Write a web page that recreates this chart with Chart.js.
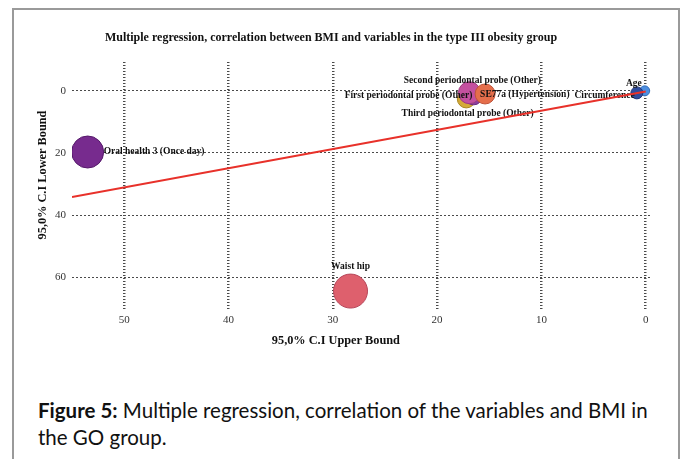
<!DOCTYPE html>
<html>
<head>
<meta charset="utf-8">
<script src="https://cdn.jsdelivr.net/npm/chart.js@4/dist/chart.umd.min.js"></script>
<style>
  html, body { margin: 0; padding: 0; background: #fff; }
  body { width: 684px; height: 459px; position: relative; overflow: hidden; }
  #frame {
    position: absolute; left: 12px; top: 8px; width: 664px; height: 470px;
    border: 2px solid #9a9a9a; border-bottom: none;
  }
  #chart { position: absolute; left: 0; top: 0; }
  #caption {
    position: absolute; left: 38px; top: 397px; width: 640px;
    font-family: Lato, "Open Sans", sans-serif; font-size: 20.5px; line-height: 27px; color: #111;
  }
</style>
</head>
<body>
<div id="frame"></div>
<canvas id="chart" width="684" height="360"></canvas>
<div id="caption"><b>Figure 5:</b> Multiple regression, correlation of the variables and BMI in<br>the GO group.</div>

<script>
// ── Data ──
const variables = [
  "Oral health 3 (Once day)",
  "Waist hip",
  "Second periodontal probe (Other)",
  "Third periodontal probe (Other)",
  "First periodontal probe (Other)",
  "SE77a (Hypertension)",
  "Circumference",
  "Age"
];
const upperBound = [53.5, 28.3, 17.2, 16.5, 16.9, 15.4, 0.1, 0.85];   // x
const lowerBound = [19.7, 64.5, 2.6, 1.6, 0.6, 1.0, 0.0, 0.65];     // y
const weight     = [16, 17, 9, 9, 11, 10, 5, 6];                    // bubble size

const fitX = [55, 0];
const fitY = [34.2, 0.2];

const xTicks = [0, 10, 20, 30, 40, 50];
const yTicks = [0, 20, 40, 60];

const COLORS = {
  fill:   ["#772b8e", "#de606d", "#d4aa36", "#8c3f9f", "#c4509f", "#e56e4b", "#4d8fe0", "#2e4c9e"],
  border: ["#55196a", "#b6475a", "#a8861f", "#6a2a80", "#9c3a7f", "#c0533a", "#3a70b8", "#1e3478"],
  fit:    "#e8312a",
  grid:   "#4a4a4a",
  text:   "#111"
};

const SERIF = "'Liberation Serif', 'Times New Roman', serif";

// label placement relative to each bubble centre
const labelPos = [
  { align: "left",   dx: 16, dy: 0 },
  { align: "center", dx: 0,  dy: -25 },
  { align: "center", dx: 6,  dy: -18 },
  { align: "center", dx: -6, dy: 18 },
  { align: "right",  dx: 3,  dy: 3 },
  { align: "left",   dx: -5, dy: 1 },
  { align: "right",  dx: -10, dy: 5 },
  { align: "center", dx: -3, dy: -9 }
];

// ── Point labels (drawn right after the bubbles, under the fit line) ──
const pointLabels = {
  id: "pointLabels",
  afterDatasetDraw(chart, args) {
    if (args.index !== 1) return;
    const ctx = chart.ctx;
    ctx.save();
    ctx.font = "bold 9.5px " + SERIF;
    ctx.fillStyle = COLORS.text;
    ctx.textBaseline = "middle";
    args.meta.data.forEach((el, i) => {
      const p = labelPos[i];
      ctx.textAlign = p.align;
      ctx.fillText(variables[i], el.x + p.dx, el.y + p.dy);
    });
    ctx.restore();
  }
};

// ── Titles ──
const titles = {
  id: "titles",
  afterDraw(chart) {
    const ctx = chart.ctx, a = chart.chartArea;
    ctx.save();
    ctx.fillStyle = COLORS.text;
    ctx.textAlign = "center";
    ctx.textBaseline = "middle";
    ctx.font = "bold 12px " + SERIF;
    ctx.fillText("Multiple regression, correlation between BMI and variables in the type III obesity group", 331, 38);
    ctx.font = "bold 12.3px " + SERIF;
    ctx.fillText("95,0% C.I Upper Bound", a.left + a.width * 0.455, 341);
    ctx.translate(43, (a.top + a.bottom) / 2 - 11);
    ctx.rotate(-Math.PI / 2);
    ctx.fillText("95,0% C.I Lower Bound", 0, 0);
    ctx.restore();
  }
};

Chart.defaults.font.family = SERIF;
Chart.defaults.color = "#333";

new Chart(document.getElementById("chart"), {
  type: "bubble",
  data: {
    datasets: [
      {
        type: "line",
        label: "Fit",
        data: fitX.map((x, i) => ({ x, y: fitY[i] })),
        borderColor: COLORS.fit,
        borderWidth: 2.2,
        pointRadius: 0,
        fill: false
      },
      {
        label: "Variables",
        data: variables.map((v, i) => ({ x: upperBound[i], y: lowerBound[i], r: weight[i] })),
        backgroundColor: COLORS.fill,
        borderColor: COLORS.border,
        borderWidth: 1
      }
    ]
  },
  options: {
    responsive: false,
    animation: false,
    devicePixelRatio: 1,
    layout: { padding: { top: 62, left: 42, right: 32, bottom: 30 } },
    plugins: { legend: { display: false }, tooltip: { enabled: false } },
    scales: {
      x: {
        type: "linear", reverse: true, min: -0.6, max: 55,
        afterBuildTicks: s => { s.ticks = xTicks.map(v => ({ value: v })); },
        afterFit: s => { s.height = 20; },
        ticks: { padding: 4, font: { size: 11 } },
        grid: { color: COLORS.grid, lineWidth: 2.5, drawTicks: false },
        border: { display: false, dash: [1, 2] }
      },
      y: {
        type: "linear", reverse: true, min: -9.3, max: 70.6,
        afterBuildTicks: s => { s.ticks = yTicks.map(v => ({ value: v })); },
        afterFit: s => { s.width = 30; },
        ticks: { padding: 6, font: { size: 11 } },
        grid: { color: COLORS.grid, lineWidth: 1, drawTicks: false },
        border: { display: false, dash: [2, 2] }
      }
    }
  },
  plugins: [pointLabels, titles]
});
</script>
</body>
</html>
